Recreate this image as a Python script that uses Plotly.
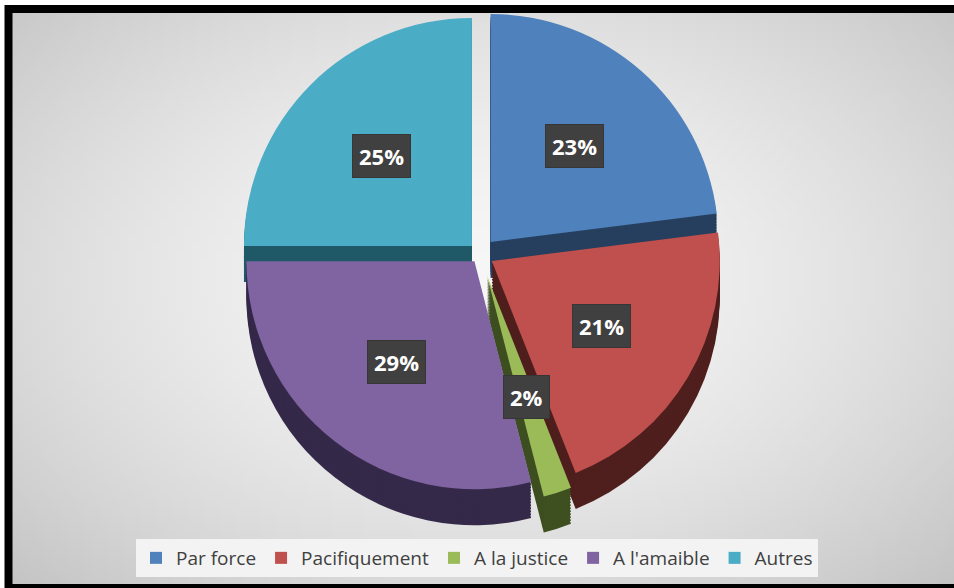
import math, zlib, struct, base64
import plotly.graph_objects as go

# ---- data ----
categories = ["Par force", "Pacifiquement", "A la justice", "A l'amaible", "Autres"]
values = [23, 21, 2, 29, 25]
pct_labels = ["23%", "21%", "2%", "29%", "25%"]

# ---- style ----
top_colors = ["#4f81bd", "#c0504d", "#9bbb59", "#8064a2", "#4bacc6"]
side_colors = ["#263f5e", "#4f1f1e", "#3e4f20", "#35294a", "#1f5866"]
pulls = [0.07, 0.06, 0.1, 0.04, 0.05]

W, H = 954, 588

# ---- gradient background (PNG generated in code) ----
def gradient_png(w=120, h=75):
    rows = b""
    for j in range(h):
        rows += b"\x00"
        for i in range(w):
            dx = (i / (w - 1) - 0.5) / 0.5
            dy = (j / (h - 1) - 0.47) / 0.53
            d = min(1.0, math.sqrt(dx * dx + dy * dy) / math.sqrt(2))
            c = int(247 - (247 - 196) * d ** 1.6)
            rows += bytes([c, c, c])
    def chunk(t, data):
        return struct.pack(">I", len(data)) + t + data + struct.pack(">I", zlib.crc32(t + data) & 0xffffffff)
    png = b"\x89PNG\r\n\x1a\n"
    png += chunk(b"IHDR", struct.pack(">IIBBBBB", w, h, 8, 2, 0, 0, 0))
    png += chunk(b"IDAT", zlib.compress(rows, 9))
    png += chunk(b"IEND", b"")
    return "data:image/png;base64," + base64.b64encode(png).decode()

# ---- pie geometry (pixels) ----
cx_px, cy_px = 480, 254
R_px = 228
depth_px = 36
maxpull = max(pulls)
half = R_px * (1 + maxpull)

def domain_for(cy):
    yc = 1 - cy / H
    return dict(x=[(cx_px - half * 1.3) / W, (cx_px + half * 1.3) / W],
                y=[yc - half / H, yc + half / H])

fig = go.Figure()

# extruded sides: stacked darker pies from deepest to top
n_layers = 12
for k in range(n_layers, 0, -1):
    off = depth_px * k / n_layers
    fig.add_trace(go.Pie(
        labels=categories, values=values, sort=False, direction="clockwise",
        rotation=0, pull=pulls, textinfo="none", hoverinfo="skip",
        marker=dict(colors=side_colors, line=dict(width=0)),
        domain=domain_for(cy_px + off), showlegend=False,
    ))

# top face
fig.add_trace(go.Pie(
    labels=categories, values=values, sort=False, direction="clockwise",
    rotation=0, pull=pulls, textinfo="none",
    marker=dict(colors=top_colors, line=dict(width=0)),
    domain=domain_for(cy_px), showlegend=True,
))

# percentage labels placed from slice mid-angles
total = sum(values)
cum = 0
annotations = []
for v, p, t in zip(values, pulls, pct_labels):
    mid = (cum + v / 2) / total * 2 * math.pi
    cum += v
    r = (p + 0.56) * R_px
    x = cx_px + r * math.sin(mid)
    y = cy_px - r * math.cos(mid)
    annotations.append(dict(
        x=x / W, y=1 - y / H, xref="paper", yref="paper",
        text="<b>%s</b>" % t, showarrow=False, borderpad=6,
        xanchor="center", yanchor="middle",
        font=dict(family="Open Sans", size=22, color="white"),
        bgcolor="#404040", bordercolor="#363636", borderwidth=1,
    ))

fig.update_layout(
    width=W, height=H,
    margin=dict(l=0, r=0, t=0, b=0),
    paper_bgcolor="white",
    plot_bgcolor="rgba(0,0,0,0)",
    images=[dict(source=gradient_png(), xref="paper", yref="paper",
                 x=5 / W, y=1 - 5 / H, sizex=1, sizey=1 - 5 / H,
                 xanchor="left", yanchor="top", sizing="stretch", layer="below")],
    shapes=[dict(type="rect", xref="paper", yref="paper",
                 x0=8.5 / W, x1=1.05, y0=0, y1=1 - 9 / H,
                 line=dict(color="black", width=8))],
    annotations=annotations,
    legend=dict(orientation="h", x=0.5, xanchor="center", y=1 - 558 / H,
                yanchor="middle", bgcolor="#f3f3f3",
                font=dict(family="Open Sans", size=19, color="#404040"),
                traceorder="normal"),
)

fig.write_html("out.html", config={"displayModeBar": False},
               post_script="document.body.style.margin='0';document.body.style.overflow='hidden';")
